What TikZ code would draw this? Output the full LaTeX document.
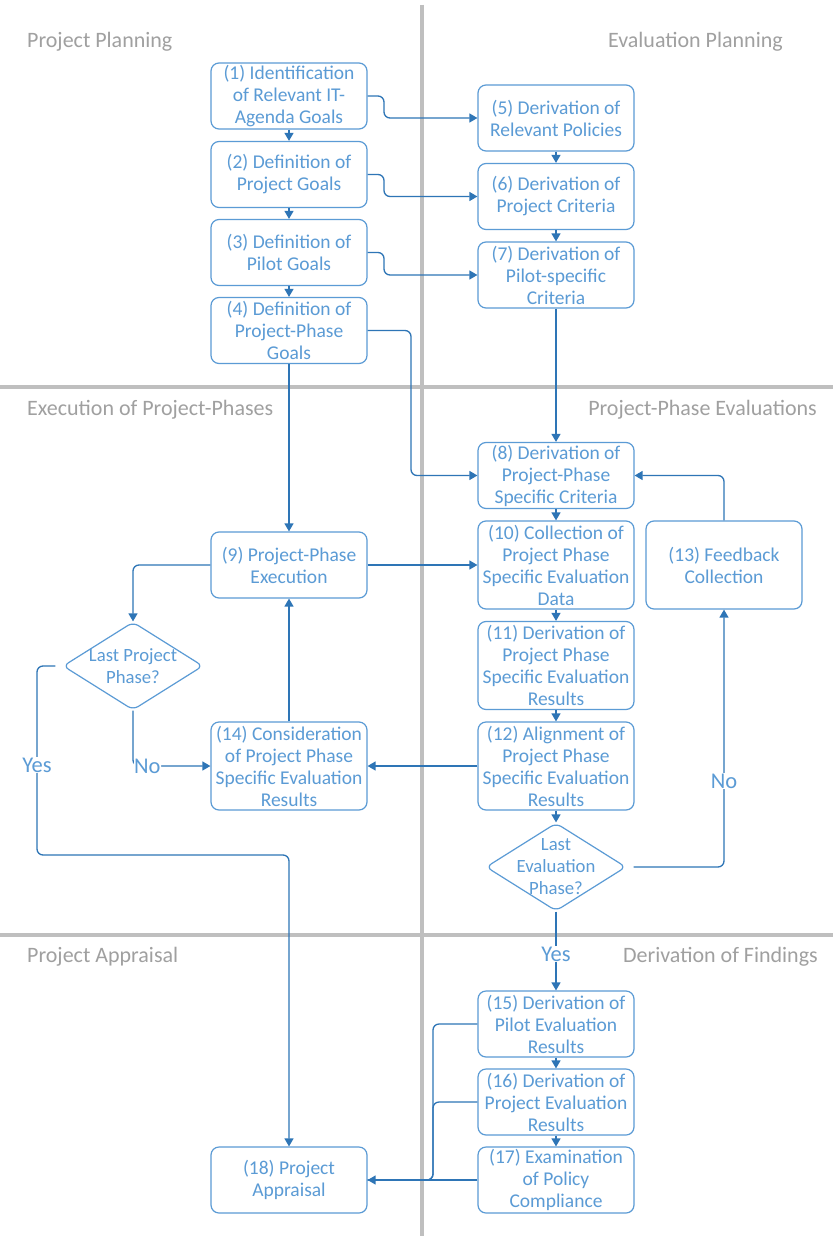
\documentclass[tikz,border=0pt]{standalone}
\usepackage{fontspec}
\setmainfont{Carlito}
\usetikzlibrary{arrows.meta,shapes.geometric}
\definecolor{boxblue}{HTML}{5B9BD5}
\definecolor{linkblue}{HTML}{2E75B6}
\definecolor{sectgray}{HTML}{A0A0A0}
\definecolor{divgray}{HTML}{BFBFBF}
\tikzset{
  stepbox/.style={draw=boxblue, line width=1.2pt, rounded corners=8pt, text=boxblue,
    minimum width=156pt, minimum height=66pt, align=center, inner sep=0pt,
    font=\fontsize{19.5}{22}\selectfont},
  tallbox/.style={stepbox, minimum height=88pt},
  decide/.style={draw=boxblue, line width=1.2pt, shape=diamond, rounded corners=6pt, text=boxblue,
    minimum width=140pt, minimum height=88pt, aspect=1.6, inner sep=-20pt, align=center,
    font=\fontsize{18.7}{22}\selectfont},
  conn/.style={draw=linkblue, line width=1.3pt, rounded corners=6pt,
    -{Triangle[width=9pt,length=8pt]}},
  plain/.style={draw=linkblue, line width=1.3pt, rounded corners=6pt},
  lbl/.style={text=boxblue, fill=white, inner sep=1pt, font=\fontsize{22.5}{24}\selectfont},
  sect/.style={text=sectgray, inner sep=0pt, font=\fontsize{22}{24}\selectfont},
  divider/.style={draw=divgray, line width=3.5pt}
}
\begin{document}
\begin{tikzpicture}[x=1pt,y=-1pt]
\fill[white] (0,0) rectangle (833,1236);
\useasboundingbox (0,0) rectangle (833,1236);
% dividers
\draw[divider] (422,5) -- (422,1236);
\draw[divider] (0,387) -- (833,387);
\draw[divider] (0,935) -- (833,935);
% section titles
\node[sect, anchor=west] (s1) at (27,42) {Project Planning};
\node[sect, anchor=east] (s2) at (783,42) {Evaluation Planning};
\node[sect, anchor=west] (s3) at (27,410) {Execution of Project-Phases};
\node[sect, anchor=east] (s4) at (817,410) {Project-Phase Evaluations};
\node[sect, anchor=west] (s5) at (27,957) {Project Appraisal};
\node[sect, anchor=east] (s6) at (818,957) {Derivation of Findings};
% boxes
\node[stepbox] (c1) at (289,96) {(1) Identification\\of Relevant IT-\\Agenda Goals};
\node[stepbox] (c2) at (289,174.5) {(2) Definition of\\Project Goals};
\node[stepbox] (c3) at (289,252.5) {(3) Definition of\\Pilot Goals};
\node[stepbox] (c4) at (289,330.5) {(4) Definition of\\Project-Phase\\Goals};
\node[stepbox] (c5) at (556,118) {(5) Derivation of\\Relevant Policies};
\node[stepbox] (c6) at (556,196.5) {(6) Derivation of\\Project Criteria};
\node[stepbox] (c7) at (556,275) {(7) Derivation of\\Pilot-specific\\Criteria};
\node[stepbox] (c8) at (556,475.5) {(8) Derivation of\\Project-Phase\\Specific Criteria};
\node[stepbox] (c9) at (289,565) {(9) Project-Phase\\Execution};
\node[tallbox] (c10) at (556,565) {(10) Collection of\\Project Phase\\Specific Evaluation\\Data};
\node[tallbox] (c11) at (556,665.5) {(11) Derivation of\\Project Phase\\Specific Evaluation\\Results};
\node[tallbox] (c12) at (556,766) {(12) Alignment of\\Project Phase\\Specific Evaluation\\Results};
\node[tallbox] (c13) at (724,565) {(13) Feedback\\Collection};
\node[tallbox] (c14) at (289,766) {(14) Consideration\\of Project Phase\\Specific Evaluation\\Results};
\node[decide] (d1) at (133,666) {Last Project\\Phase?};
\node[decide] (d2) at (556,867) {Last\\Evaluation\\Phase?};
\node[stepbox] (c15) at (556,1024) {(15) Derivation of\\Pilot Evaluation\\Results};
\node[stepbox] (c16) at (556,1102) {(16) Derivation of\\Project Evaluation\\Results};
\node[stepbox] (c17) at (556,1180) {(17) Examination\\of Policy\\Compliance};
\node[stepbox] (c18) at (289,1180) {(18) Project\\Appraisal};
% bend points
\coordinate (k1) at (384,96);
\coordinate (k2) at (384,174.5);
\coordinate (k3) at (384,252.5);
\coordinate (k4) at (411,330.5);
\coordinate (kyes) at (37,855);
\coordinate (kno) at (724,867);
\coordinate (kf) at (433,1024);
\coordinate (kg) at (433,1102);
% vertical chains
\draw[conn] (c1) -- (c2);
\draw[conn] (c2) -- (c3);
\draw[conn] (c3) -- (c4);
\draw[conn] (c5) -- (c6);
\draw[conn] (c6) -- (c7);
\draw[conn] (c7) -- (c8);
\draw[conn] (c8) -- (c10);
\draw[conn] (c10) -- (c11);
\draw[conn] (c11) -- (c12);
\draw[conn] (c12) -- (d2);
\draw[conn] (c15) -- (c16);
\draw[conn] (c16) -- (c17);
\draw[conn] (c4) -- (c9);
\draw[conn] (c14) -- (c9);
% cross links
\draw[conn] (c1.east) -- (k1) |- (c5.west);
\draw[conn] (c2.east) -- (k2) |- (c6.west);
\draw[conn] (c3.east) -- (k3) |- (c7.west);
\draw[conn] (c4.east) -- (k4) |- (c8.west);
\draw[conn] (c9) -- (c10);
\draw[conn] (c9.west) -| (d1.north);
\draw[conn] (c12) -- (c14);
\draw[conn] (c13.north) |- (c8.east);
\draw[conn] (d1.south) |- node[lbl, pos=0.5, anchor=west, inner sep=0.5pt] (no1) {No} (c14.west);
\draw[conn, shorten <=7pt] (d1.west) -| (kyes) -| (c18.north);
\node[lbl] (yes1) at (37,765) {Yes};
\draw[conn, shorten <=7pt] (d2.east) -- (kno) -- (c13.south);
\node[lbl] (no2) at (724,781) {No};
\draw[conn] (d2) -- (c15);
\node[lbl] (yes2) at (556,954) {Yes};
\draw[conn] (c17) -- (c18);
\draw[plain] (c15.west) -- (kf) -- (433,1180) -- (c18.east);
\draw[plain] (c16.west) -- (kg) -- (433,1180) -- (c18.east);
\end{tikzpicture}
\end{document}
